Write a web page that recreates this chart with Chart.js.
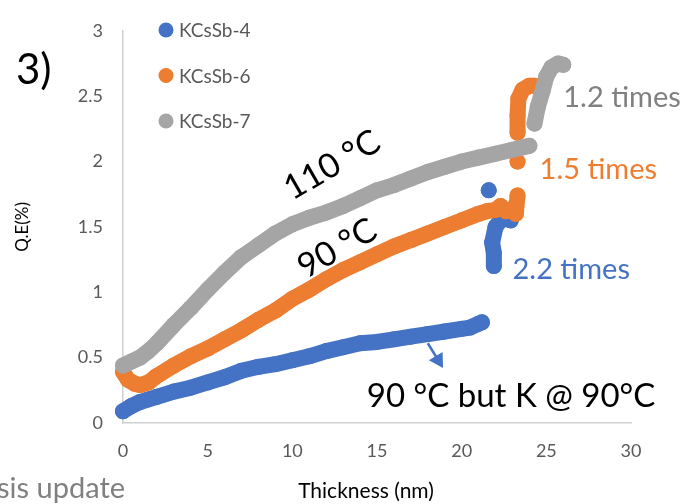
<!DOCTYPE html>
<html>
<head>
<meta charset="utf-8">
<title>Q.E vs Thickness</title>
<script src="https://cdn.jsdelivr.net/npm/chart.js@4.4.1/dist/chart.umd.min.js"></script>
<style>
html,body{margin:0;padding:0;background:#fff;}
#wrap{width:684px;height:504px;}
</style>
</head>
<body>
<div id="wrap"><canvas id="qeChart" width="684" height="504"></canvas></div>
<script>

// ==========================
// Data
// ==========================

const seriesNames=["KCsSb-4","KCsSb-6","KCsSb-7"];
const seriesColors=["#4472C4","#ED7D31","#A5A5A5"];

const xTicks=[0,5,10,15,20,25,30];
const yTicks=[0,0.5,1,1.5,2,2.5,3];

// null = gap in the trace
const kcssb4X=[0,0.5,1,1.5,2,3,4,5,6,7,8,9,10,11,12,13,14,15,16,17,18,19,20,20.5,21,21.2,null,21.6,null,21.9,21.9,21.8,22.0,22.4,22.9];
const kcssb4Y=[0.09,0.13,0.16,0.18,0.20,0.24,0.27,0.31,0.35,0.40,0.43,0.45,0.48,0.51,0.55,0.58,0.61,0.62,0.64,0.66,0.68,0.70,0.72,0.73,0.76,0.77,null,1.78,null,1.20,1.30,1.38,1.50,1.57,1.55];

const kcssb6X=[0,0.3,0.7,1,1.5,2,3,4,5,6,7,8,9,10,11,12,13,14,15,16,17,18,19,20,21,21.5,22,22.3,22.6,23.0,23.2,23.3,null,23.3,null,23.3,23.3,23.35,23.6,24.0,24.3];
const kcssb6Y=[0.39,0.33,0.30,0.29,0.31,0.36,0.44,0.51,0.57,0.64,0.71,0.79,0.86,0.95,1.02,1.10,1.17,1.23,1.29,1.35,1.40,1.45,1.50,1.55,1.60,1.62,1.63,1.66,1.62,1.64,1.60,1.74,null,2.00,null,2.22,2.35,2.48,2.55,2.58,2.58];

const kcssb7X=[0,0.5,1,1.5,2,3,4,5,6,7,8,9,10,11,12,13,14,15,16,17,18,19,20,21,22,23,24,null,24.3,24.5,24.8,25.0,25.3,25.7,26.0];
const kcssb7Y=[0.44,0.47,0.50,0.55,0.61,0.75,0.88,1.02,1.15,1.27,1.36,1.45,1.52,1.57,1.61,1.66,1.72,1.78,1.82,1.87,1.92,1.96,2.00,2.03,2.06,2.09,2.12,null,2.29,2.42,2.55,2.65,2.72,2.75,2.74];

const seriesX=[kcssb4X,kcssb6X,kcssb7X];
const seriesY=[kcssb4Y,kcssb6Y,kcssb7Y];

// text notes placed in data units
const notes=[
    {text:"110 °C",x:10.0,y:1.70,size:34,color:"#000000",angle:-30},
    {text:"90 °C",x:10.8,y:1.10,size:34,color:"#000000",angle:-30},
    {text:"1.2 times",x:26.0,y:2.42,size:29,color:"#808080",angle:0},
    {text:"1.5 times",x:24.6,y:1.87,size:29,color:"#ED7D31",angle:0},
    {text:"2.2 times",x:23.0,y:1.10,size:29,color:"#4472C4",angle:0},
    {text:"90 °C but K @ 90°C",x:14.4,y:0.12,size:33,color:"#000000",angle:0}
];

document.addEventListener("DOMContentLoaded",()=>{

    Chart.defaults.font.family="Lato";

    // ==========================
    // Legend + notes plugin
    // ==========================

    const extras={

        id:"extras",

        afterDatasetsDraw(chart){

            const ctx=chart.ctx;
            const xs=chart.scales.x;
            const ys=chart.scales.y;

            ctx.save();

            // legend inside the plot
            chart.data.datasets.forEach((ds,i)=>{
                const cy=30+45.5*i;
                ctx.beginPath();
                ctx.arc(166,cy,7.5,0,Math.PI*2);
                ctx.fillStyle=ds.backgroundColor;
                ctx.fill();
                ctx.fillStyle="#595959";
                ctx.font="19px Lato";
                ctx.textAlign="left";
                ctx.textBaseline="middle";
                ctx.fillText(ds.label,179,cy+1);
            });

            // notes
            notes.forEach(n=>{
                ctx.save();
                ctx.translate(xs.getPixelForValue(n.x),ys.getPixelForValue(n.y));
                ctx.rotate(n.angle*Math.PI/180);
                ctx.fillStyle=n.color;
                ctx.font=n.size+"px Lato";
                ctx.textAlign="left";
                ctx.textBaseline="alphabetic";
                ctx.fillText(n.text,0,0);
                ctx.restore();
            });

            // arrow under the blue trace
            const ax0=xs.getPixelForValue(18.0),ay0=ys.getPixelForValue(0.61);
            const ax1=xs.getPixelForValue(18.9),ay1=ys.getPixelForValue(0.42);
            const ang=Math.atan2(ay1-ay0,ax1-ax0);
            ctx.strokeStyle="#4472C4";
            ctx.fillStyle="#4472C4";
            ctx.lineWidth=2.5;
            ctx.beginPath();
            ctx.moveTo(ax0,ay0);
            ctx.lineTo(ax1-9*Math.cos(ang),ay1-9*Math.sin(ang));
            ctx.stroke();
            ctx.beginPath();
            ctx.moveTo(ax1,ay1);
            ctx.lineTo(ax1-14*Math.cos(ang)+8*Math.sin(ang),ay1-14*Math.sin(ang)-8*Math.cos(ang));
            ctx.lineTo(ax1-14*Math.cos(ang)-8*Math.sin(ang),ay1-14*Math.sin(ang)+8*Math.cos(ang));
            ctx.closePath();
            ctx.fill();

            // x axis title (sits a little left of centre in the original)
            ctx.fillStyle="#000000";
            ctx.font="21px Lato";
            ctx.textAlign="center";
            ctx.textBaseline="middle";
            ctx.fillText("Thickness (nm)",366,491);

            // panel label and clipped caption
            ctx.textAlign="left";
            ctx.textBaseline="alphabetic";
            ctx.font="42px Lato";
            ctx.fillText("3)",16,84);
            ctx.fillStyle="#808080";
            ctx.font="29px Lato";
            ctx.fillText("sis update",-3,498);

            ctx.restore();

        }

    };

    // ==========================
    // Chart
    // ==========================

    new Chart(document.getElementById("qeChart"),{

        type:"scatter",

        data:{
            datasets:seriesNames.map((name,i)=>({
                label:name,
                data:seriesX[i].map((x,j)=>({x:x,y:seriesY[i][j]})),
                showLine:true,
                borderColor:seriesColors[i],
                backgroundColor:seriesColors[i],
                borderWidth:16,
                borderCapStyle:"round",
                borderJoinStyle:"round",
                pointRadius:8,
                pointBorderWidth:0,
                pointHoverRadius:8,
                clip:false,
                order:3-i
            }))
        },

        plugins:[extras],

        options:{

            responsive:false,
            animation:false,
            spanGaps:false,

            layout:{
                padding:{left:0,right:53,top:13,bottom:0}
            },

            plugins:{
                legend:{display:false},
                tooltip:{enabled:false}
            },

            scales:{

                x:{
                    type:"linear",
                    min:0,
                    max:30,
                    afterBuildTicks:axis=>{axis.ticks=xTicks.map(v=>({value:v}));},
                    afterFit:axis=>{axis.height=81;},
                    grid:{display:false,drawTicks:false},
                    border:{color:"#d0d0d0",width:1.5},
                    ticks:{color:"#595959",font:{size:18},padding:17,maxRotation:0,callback:v=>String(v)},
                    title:{display:false}
                },

                y:{
                    type:"linear",
                    min:0,
                    max:3,
                    afterBuildTicks:axis=>{axis.ticks=yTicks.map(v=>({value:v}));},
                    afterFit:axis=>{axis.width=123;},
                    grid:{display:false,drawTicks:false},
                    border:{color:"#d0d0d0",width:1.5},
                    ticks:{color:"#595959",font:{size:18},padding:20,callback:v=>String(v)},
                    title:{display:true,text:"Q.E(%)",color:"#000000",font:{size:17},padding:{top:12,bottom:0}}
                }

            }

        }

    });

});
</script>
</body>
</html>
